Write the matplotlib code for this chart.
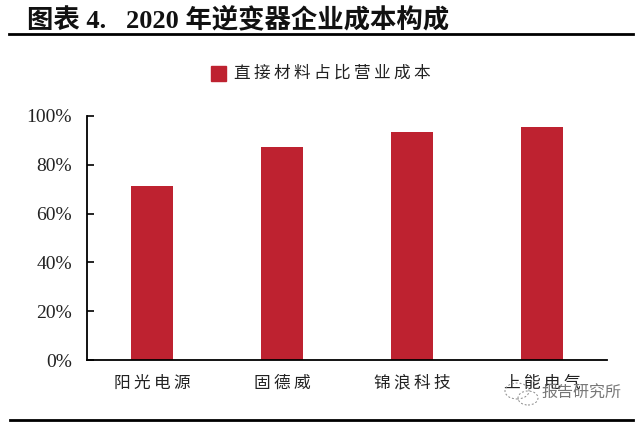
import matplotlib
matplotlib.use("Agg")
import matplotlib.pyplot as plt
from matplotlib.lines import Line2D
from matplotlib.patches import Ellipse, Rectangle

plt.rcParams['font.family'] = ['Liberation Serif', 'Noto Sans CJK SC']

THIN = '\u2009'

companies = ['阳光电源', '固德威', '锦浪科技', '上能电气']
material_share = [71.3, 87.3, 93.5, 95.5]
y_ticks = [0, 20, 40, 60, 80, 100]
y_labels = ['0%', '20%', '40%', '60%', '80%', '100%']
title = '图表 4.   2020 年逆变器企业成本构成'
series_name = '直接材料占比营业成本'
watermark = '报告研究所'

W, H = 640, 423
RED = '#BE2230'
TXT = '#222222'

fig = plt.figure(figsize=(W / 100, H / 100), dpi=100)
ax = fig.add_axes([87.3 / W, 1 - 360 / H, (606.8 - 87.3) / W, (360 - 116) / H])

ax.bar(range(len(companies)), material_share, width=0.327, color=RED)
ax.set_xlim(-0.5, 3.5)
ax.set_ylim(0, 100)
ax.set_xticks(range(len(companies)))
ax.set_xticklabels([THIN.join(c) for c in companies], fontsize=12, color=TXT, va='center')
ax.set_yticks(y_ticks)
ax.set_yticklabels(y_labels, fontsize=14, color=TXT)
ax.tick_params(axis='x', length=0, pad=17)
ax.tick_params(axis='y', direction='in', length=5, width=1.2, pad=11)
ax.spines['top'].set_visible(False)
ax.spines['right'].set_visible(False)
ax.spines['left'].set_linewidth(1.3)
ax.spines['bottom'].set_linewidth(1.3)

# legend placed by hand above the plot
fig.add_artist(Rectangle((211 / W, 1 - 81 / H), 15 / W, 15 / H, transform=fig.transFigure, color=RED))
fig.text(234 / W, 1 - 74 / H, THIN.join(series_name), fontsize=12, color=TXT, va='center', ha='left')

fig.text(27 / W, 1 - 19 / H, title, fontsize=19, fontweight='bold', color='#111111', va='center', ha='left')

# top and bottom rules
fig.add_artist(Line2D([9 / W, 633 / W], [1 - 33.5 / H] * 2, color='black', lw=2))
fig.add_artist(Line2D([10 / W, 633 / W], [1 - 420 / H] * 2, color='black', lw=2))

# watermark knocks out the lower part of the last label
fig.add_artist(Rectangle((500 / W, 1 - 408 / H), 125 / W, 17 / H, transform=fig.transFigure,
                         color='white', zorder=5))
for x, y, w, h in [(517, 391, 24, 16), (528, 398, 20, 14)]:
    fig.add_artist(Ellipse((x / W, 1 - y / H), w / W, h / H, transform=fig.transFigure, fill=False,
                           ec='#888888', lw=0.7, ls=(0, (2, 2)), zorder=6))
fig.text(541 / W, 1 - 394 / H, watermark, fontsize=11.5, color='#777777', va='center', ha='left', zorder=7)

fig.savefig('out.png', dpi=100)
